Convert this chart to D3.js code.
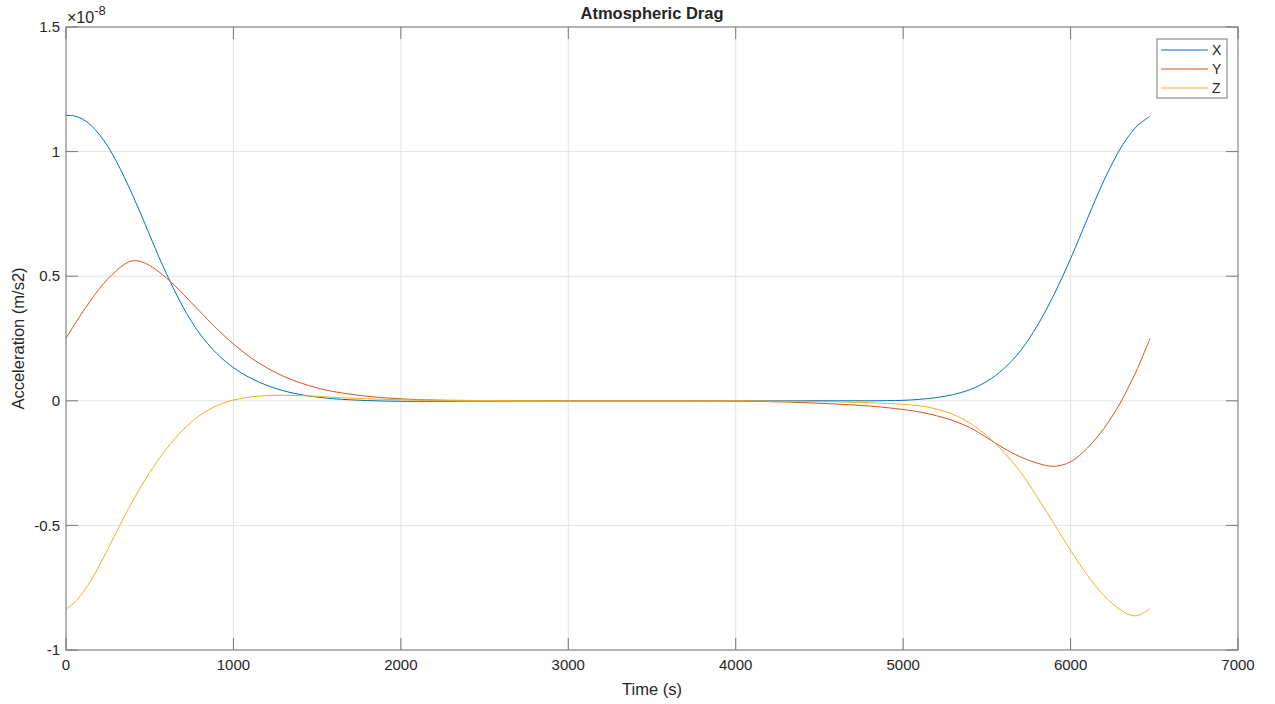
<!DOCTYPE html>
<html>
<head>
<meta charset="utf-8">
<script src="https://cdn.jsdelivr.net/npm/d3@7"></script>
<style>
  body { margin: 0; background: #fff; }
  text { font-family: "Liberation Sans", Arial, sans-serif; fill: #262626; }
</style>
</head>
<body>
<div id="chart"></div>
<script>
// time samples (s)
const times = [0, 50, 100, 150, 200, 250, 300, 350, 400, 450, 500, 550, 600, 650, 700, 750, 800, 900,
  1000, 1100, 1200, 1300, 1400, 1500, 1600, 1800, 2000, 2200, 2500, 3000, 3500, 4000, 4200, 4400,
  4600, 4800, 5000, 5100, 5200, 5300, 5400, 5500, 5600, 5700, 5800, 5900, 6000, 6100, 6200, 6300,
  6350, 6400, 6475];

// acceleration values, in units of 1e-8 m/s2
const xValues = [1.145, 1.143, 1.13, 1.105, 1.068, 1.02, 0.962, 0.895, 0.822, 0.745, 0.665, 0.585, 0.51,
  0.44, 0.375, 0.318, 0.268, 0.19, 0.133, 0.092, 0.062, 0.04, 0.025, 0.015, 0.008, 0.001, -0.002, -0.002,
  -0.001, 0, 0, 0, 0, 0, 0, 0, 0.002, 0.006, 0.013, 0.025, 0.045, 0.078, 0.128, 0.2, 0.3, 0.425, 0.57,
  0.73, 0.885, 1.015, 1.065, 1.105, 1.142];
const yValues = [0.251, 0.305, 0.357, 0.405, 0.45, 0.49, 0.522, 0.548, 0.562, 0.558, 0.543, 0.52, 0.493,
  0.462, 0.428, 0.393, 0.358, 0.29, 0.228, 0.175, 0.132, 0.098, 0.072, 0.052, 0.037, 0.018, 0.008, 0.003,
  0.001, 0, 0, -0.001, -0.003, -0.007, -0.013, -0.021, -0.035, -0.045, -0.06, -0.08, -0.108, -0.148,
  -0.19, -0.225, -0.25, -0.263, -0.245, -0.19, -0.11, -0.005, 0.06, 0.13, 0.251];
const zValues = [-0.835, -0.81, -0.77, -0.72, -0.66, -0.595, -0.528, -0.462, -0.40, -0.342, -0.288,
  -0.238, -0.193, -0.152, -0.116, -0.085, -0.058, -0.02, 0.003, 0.015, 0.021, 0.022, 0.021, 0.018, 0.014,
  0.008, 0.004, 0.002, 0.001, 0, 0, 0, -0.001, -0.002, -0.004, -0.008, -0.014, -0.02, -0.033, -0.055,
  -0.09, -0.14, -0.205, -0.285, -0.385, -0.492, -0.6, -0.7, -0.782, -0.84, -0.858, -0.862, -0.833];

const seriesNames = ["X", "Y", "Z"];
const seriesColors = ["#0072BD", "#D95319", "#EDB120"];
const xTicks = [0, 1000, 2000, 3000, 4000, 5000, 6000, 7000];
const yTicks = [-1, -0.5, 0, 0.5, 1, 1.5];

const width = 1275, height = 704;
const margin = { top: 27, right: 37, bottom: 54, left: 66 };
const innerW = width - margin.left - margin.right;
const innerH = height - margin.top - margin.bottom;

const svg = d3.select("#chart").append("svg")
  .attr("width", width)
  .attr("height", height);

const g = svg.append("g").attr("transform", `translate(${margin.left},${margin.top})`);

const x = d3.scaleLinear().domain([0, 7000]).range([0, innerW]);
const y = d3.scaleLinear().domain([-1, 1.5]).range([innerH, 0]);

// grid
g.selectAll(".vgrid").data(xTicks).enter().append("line")
  .attr("x1", d => x(d)).attr("x2", d => x(d))
  .attr("y1", 0).attr("y2", innerH)
  .style("stroke", "#e3e3e3").style("stroke-width", 1);
g.selectAll(".hgrid").data(yTicks).enter().append("line")
  .attr("y1", d => y(d)).attr("y2", d => y(d))
  .attr("x1", 0).attr("x2", innerW)
  .style("stroke", "#e3e3e3").style("stroke-width", 1);

// lines
const allSeries = [xValues, yValues, zValues];
const line = d3.line()
  .x(d => x(d[0]))
  .y(d => y(d[1]))
  .curve(d3.curveCatmullRom.alpha(0.5));

allSeries.forEach((vals, i) => {
  g.append("path")
    .datum(times.map((t, j) => [t, vals[j]]))
    .attr("d", line)
    .style("fill", "none")
    .style("stroke", seriesColors[i])
    .style("stroke-width", 1);
});

// axes box and inward ticks (MATLAB style)
const tickLen = 12;
const axisColor = "#777";
g.append("rect")
  .attr("width", innerW).attr("height", innerH)
  .style("fill", "none").style("stroke", axisColor).style("stroke-width", 1);

xTicks.forEach(t => {
  g.append("line").attr("x1", x(t)).attr("x2", x(t)).attr("y1", innerH).attr("y2", innerH - tickLen)
    .style("stroke", axisColor);
  g.append("line").attr("x1", x(t)).attr("x2", x(t)).attr("y1", 0).attr("y2", tickLen)
    .style("stroke", axisColor);
  g.append("text")
    .attr("x", x(t)).attr("y", innerH + 20)
    .attr("text-anchor", "middle")
    .style("font-size", "15px")
    .text(t);
});

yTicks.forEach(t => {
  g.append("line").attr("x1", 0).attr("x2", tickLen).attr("y1", y(t)).attr("y2", y(t))
    .style("stroke", axisColor);
  g.append("line").attr("x1", innerW).attr("x2", innerW - tickLen).attr("y1", y(t)).attr("y2", y(t))
    .style("stroke", axisColor);
  g.append("text")
    .attr("x", -6).attr("y", y(t))
    .attr("dy", "0.35em")
    .attr("text-anchor", "end")
    .style("font-size", "15px")
    .text(String(t));
});

// exponent label
const expo = svg.append("text")
  .attr("x", 67).attr("y", 23)
  .style("font-size", "16px");
expo.append("tspan").text("\u00d710");
expo.append("tspan").attr("dy", -8).style("font-size", "13px").text("-8");

// title and labels
svg.append("text")
  .attr("x", margin.left + innerW / 2).attr("y", 19)
  .attr("text-anchor", "middle")
  .style("font-size", "16.5px").style("font-weight", "bold")
  .text("Atmospheric Drag");

svg.append("text")
  .attr("x", margin.left + innerW / 2).attr("y", 695)
  .attr("text-anchor", "middle")
  .style("font-size", "16.5px")
  .text("Time (s)");

svg.append("text")
  .attr("transform", `translate(24,${margin.top + innerH / 2}) rotate(-90)`)
  .attr("text-anchor", "middle")
  .style("font-size", "16.5px")
  .text("Acceleration (m/s2)");

// legend
const legend = svg.append("g").attr("transform", "translate(1157,39)");
legend.append("rect")
  .attr("width", 70).attr("height", 59)
  .style("fill", "#fff").style("stroke", axisColor).style("stroke-width", 1);
seriesNames.forEach((name, i) => {
  const ly = 11 + i * 19;
  legend.append("line")
    .attr("x1", 4).attr("x2", 51).attr("y1", ly).attr("y2", ly)
    .style("stroke", seriesColors[i]).style("stroke-width", 1);
  legend.append("text")
    .attr("x", 55).attr("y", ly).attr("dy", "0.35em")
    .style("font-size", "14px")
    .text(name);
});
</script>
</body>
</html>
